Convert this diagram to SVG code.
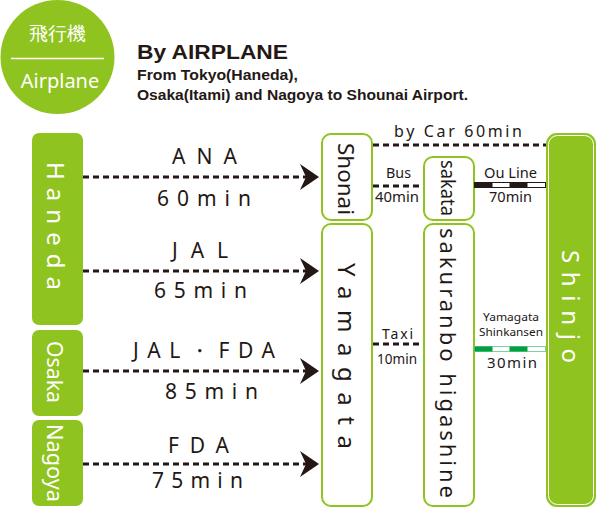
<svg xmlns="http://www.w3.org/2000/svg" width="600" height="509" viewBox="0 0 600 509">
<style>
.g{fill:#8fc31f}
.ob{fill:#fff;stroke:#8fc31f;stroke-width:2}
.dk{fill:#231815;font-family:"Noto Sans","Liberation Sans",sans-serif}
.wt{fill:#fff;font-family:"Noto Sans","Liberation Sans",sans-serif}
.dash{stroke:#231815;stroke-width:3;stroke-dasharray:6 4;fill:none}
.lbl{font-size:21px}
.sm{font-size:14px}
</style>
<defs>
<path id="ah" d="M0,0 L-19,-13 L-13,0 L-19,13 Z" fill="#231815"/>
</defs>
<g id="header">
<circle cx="57.5" cy="57" r="57" class="g"/>
<text x="57.5" y="40" class="wt" font-size="19" text-anchor="middle" font-family="'Noto Sans CJK JP',sans-serif">飛行機</text>
<line x1="11" y1="58.5" x2="104" y2="58.5" stroke="#fff" stroke-width="1.5"/>
<text x="60" y="88" class="wt" font-size="20" text-anchor="middle">Airplane</text>
<text x="137" y="59" font-family="'Liberation Sans',sans-serif" font-weight="bold" font-size="20" fill="#231815" textLength="151" lengthAdjust="spacingAndGlyphs">By AIRPLANE</text>
<text x="137" y="80" font-family="'Liberation Sans',sans-serif" font-weight="bold" font-size="14.5" fill="#231815" textLength="161" lengthAdjust="spacingAndGlyphs">From Tokyo(Haneda),</text>
<text x="137" y="100" font-family="'Liberation Sans',sans-serif" font-weight="bold" font-size="14.5" fill="#231815" textLength="331" lengthAdjust="spacingAndGlyphs">Osaka(Itami) and Nagoya to Shounai Airport.</text>
</g>
<g id="haneda">
<rect x="32" y="133" width="51" height="192" rx="7" class="g"/>
<text transform="translate(47,162) rotate(90)" class="wt" font-size="24" textLength="128" lengthAdjust="spacing">Haneda</text>
</g>
<g id="osaka">
<rect x="32" y="330" width="51" height="86" rx="7" class="g"/>
<text transform="translate(47,341) rotate(90)" class="wt" font-size="21" textLength="62" lengthAdjust="spacingAndGlyphs">Osaka</text>
</g>
<g id="nagoya">
<rect x="32" y="420" width="51" height="86" rx="7" class="g"/>
<text transform="translate(47,424) rotate(90)" class="wt" font-size="21" textLength="78" lengthAdjust="spacingAndGlyphs">Nagoya</text>
</g>
<g id="shonai">
<rect x="322" y="134" width="50" height="86" rx="9" class="ob"/>
<text transform="translate(338,143) rotate(90)" class="dk" font-size="22" textLength="72" lengthAdjust="spacingAndGlyphs">Shonai</text>
</g>
<g id="yamagata">
<rect x="322" y="224" width="50" height="282" rx="9" class="ob"/>
<text transform="translate(338,263) rotate(90)" class="dk" font-size="24" textLength="186" lengthAdjust="spacing">Yamagata</text>
</g>
<g id="sakata">
<rect x="424" y="157" width="50" height="63" rx="9" class="ob"/>
<text transform="translate(441,160) rotate(90)" class="dk" font-size="20" textLength="56" lengthAdjust="spacingAndGlyphs">sakata</text>
</g>
<g id="sakuranbo">
<rect x="424" y="224" width="50" height="282" rx="9" class="ob"/>
<text transform="translate(440,228) rotate(90)" class="dk" font-size="22" textLength="270" lengthAdjust="spacing">sakuranbo higashine</text>
</g>
<g id="shinjo">
<rect x="546" y="133" width="50" height="374" rx="11" class="g"/>
<rect x="548.5" y="135.5" width="45" height="369" rx="9" fill="none" stroke="#fff" stroke-width="1"/>
<text transform="translate(562,250) rotate(90)" class="wt" font-size="24" textLength="113" lengthAdjust="spacing">Shinjo</text>
</g>
<g id="connectors">
<line x1="83" y1="177" x2="306" y2="177" class="dash"/>
<line x1="83" y1="271" x2="306" y2="271" class="dash"/>
<line x1="83" y1="371" x2="306" y2="371" class="dash"/>
<line x1="83" y1="464" x2="306" y2="464" class="dash"/>
<use href="#ah" x="319" y="177"/>
<use href="#ah" x="319" y="271"/>
<use href="#ah" x="319" y="371"/>
<use href="#ah" x="319" y="464"/>
<line x1="373" y1="145" x2="546" y2="145" class="dash"/>
<line x1="373" y1="186" x2="422" y2="186" class="dash"/>
<line x1="373" y1="344" x2="420" y2="344" class="dash"/>
<rect x="474.5" y="182.5" width="71" height="5" fill="#fff" stroke="#231815" stroke-width="1"/>
<rect x="474.5" y="182.5" width="18" height="5" fill="#231815"/>
<rect x="509.5" y="182.5" width="18" height="5" fill="#231815"/>
<rect x="474.5" y="346.5" width="71" height="5" fill="#fff" stroke="#7fd0a0" stroke-width="1"/>
<rect x="474.5" y="346.5" width="18" height="5" fill="#00a040"/>
<rect x="509.5" y="346.5" width="18" height="5" fill="#00a040"/>
</g>
<g id="labels">
<text x="172" y="164" class="dk lbl" textLength="65" lengthAdjust="spacing">ANA</text>
<text x="157" y="206" class="dk lbl" textLength="94" lengthAdjust="spacing">60min</text>
<text x="172" y="258" class="dk lbl" textLength="56" lengthAdjust="spacing">JAL</text>
<text x="154" y="298" class="dk lbl" textLength="93" lengthAdjust="spacing">65min</text>
<text x="133" y="358" class="dk lbl" textLength="142" lengthAdjust="spacing">JAL・FDA</text>
<text x="165" y="399" class="dk lbl" textLength="93" lengthAdjust="spacing">85min</text>
<text x="168" y="453" class="dk lbl" textLength="61" lengthAdjust="spacing">FDA</text>
<text x="152" y="488" class="dk lbl" textLength="91" lengthAdjust="spacing">75min</text>
<text x="394" y="137" class="dk" font-size="16" textLength="128" lengthAdjust="spacing">by Car 60min</text>
<text x="386" y="178" class="dk sm" textLength="25" lengthAdjust="spacingAndGlyphs">Bus</text>
<text x="375" y="202" class="dk sm" textLength="44" lengthAdjust="spacingAndGlyphs">40min</text>
<text x="484" y="178" class="dk sm" textLength="53" lengthAdjust="spacingAndGlyphs">Ou Line</text>
<text x="489" y="202" class="dk sm" textLength="43" lengthAdjust="spacingAndGlyphs">70min</text>
<text x="382" y="339" class="dk sm" textLength="31" lengthAdjust="spacing">Taxi</text>
<text x="377" y="364" class="dk sm" textLength="40" lengthAdjust="spacingAndGlyphs">10min</text>
<text x="483" y="321" class="dk" font-size="11.5" textLength="56" lengthAdjust="spacingAndGlyphs">Yamagata</text>
<text x="479" y="336" class="dk" font-size="11.5" textLength="64" lengthAdjust="spacingAndGlyphs">Shinkansen</text>
<text x="487" y="368" class="dk" font-size="15" textLength="50" lengthAdjust="spacing">30min</text>
</g>
</svg>
